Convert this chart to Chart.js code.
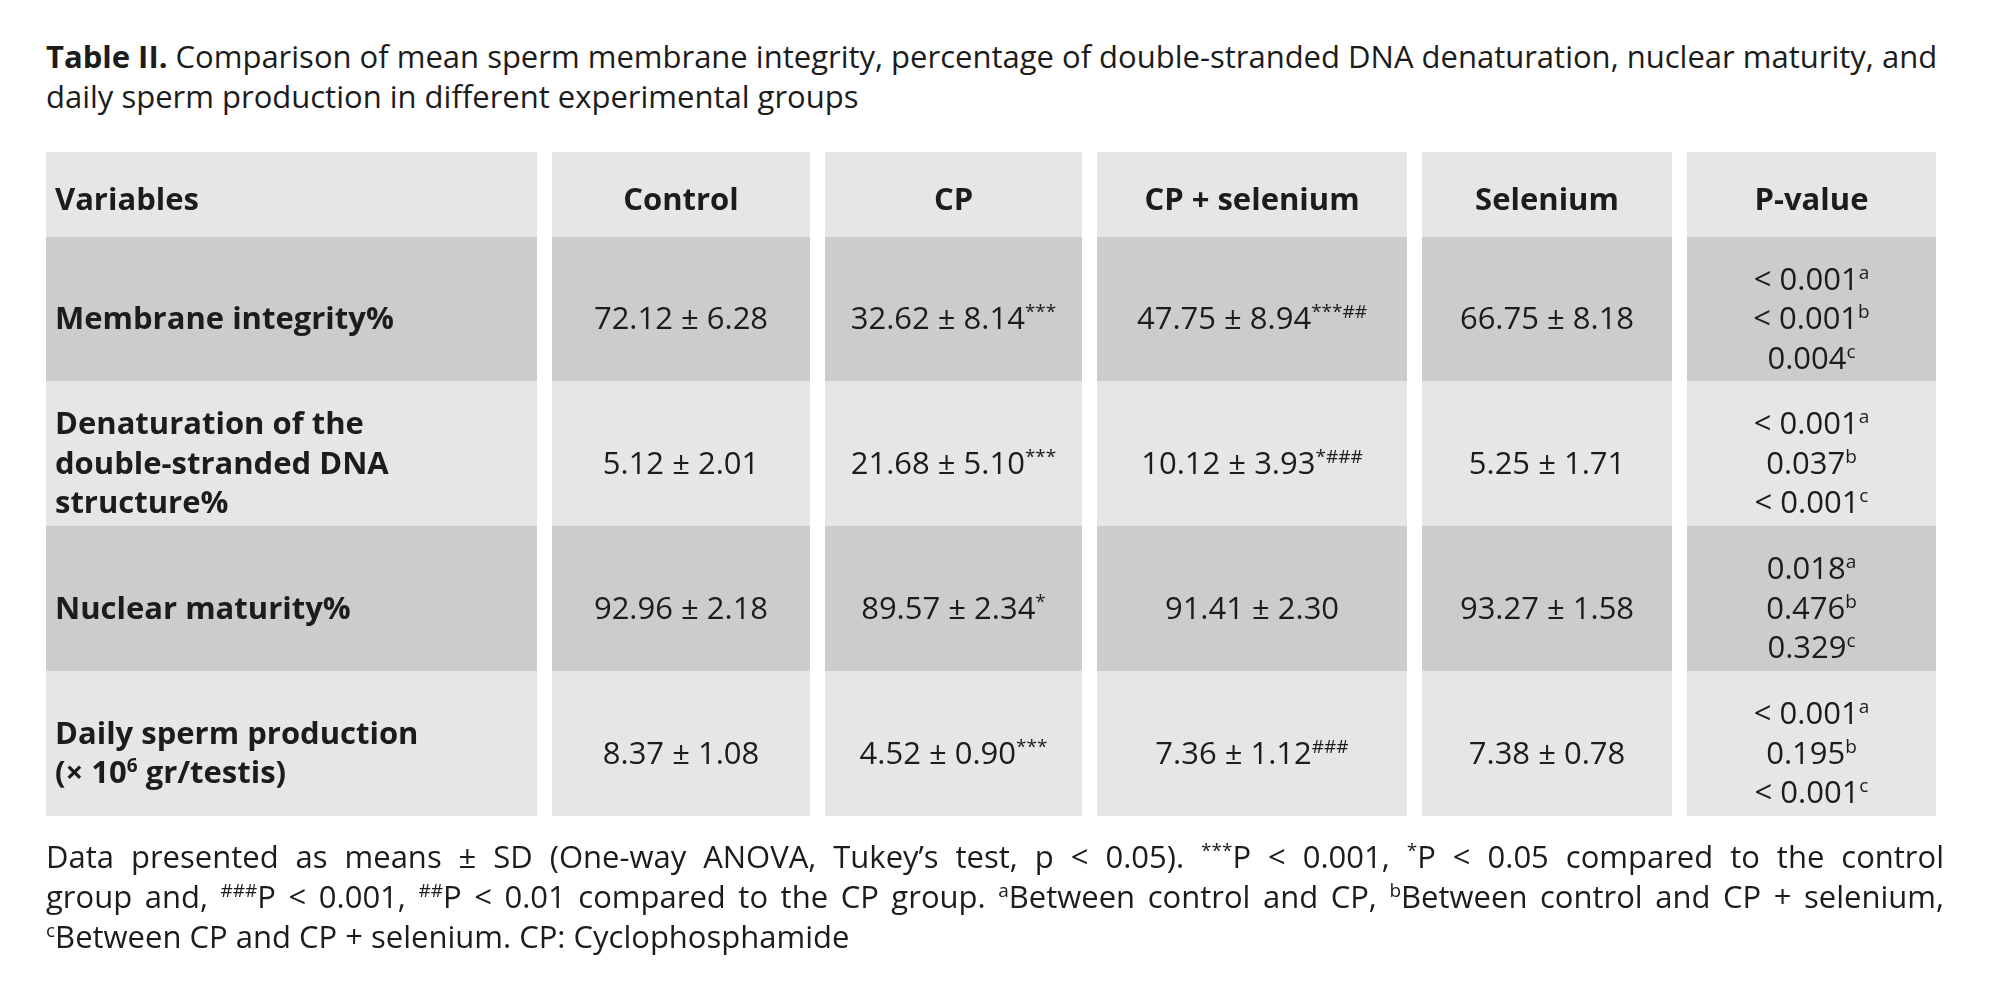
<!DOCTYPE html>
<html>
<head>
<meta charset="utf-8">
<title>Table II</title>
<script src="https://cdn.jsdelivr.net/npm/chart.js@4.4.1/dist/chart.umd.min.js"></script>
<style>
  html, body { margin: 0; padding: 0; background: #fff; }
  body { width: 2000px; height: 991px; position: relative; overflow: hidden; font-family: "Open Sans", Lato, sans-serif; color: #1c1c1c; }
  #grafico { position: absolute; left: 0; top: 0; }
  .titulo { position: absolute; left: 46px; top: 36px; font-size: 31px; line-height: 40px; white-space: nowrap; }
  .nota { position: absolute; left: 46px; top: 836px; width: 1898px; font-size: 31px; line-height: 40px; }
  .nota div { text-align: justify; text-align-last: justify; white-space: nowrap; }
  .nota div.ultima { text-align-last: left; }
  sup { font-size: 19px; line-height: 0; vertical-align: 11px; }
</style>
</head>
<body>
<div class="titulo"><b>Table II.</b> Comparison of mean sperm membrane integrity, percentage of double-stranded DNA denaturation, nuclear maturity, and<br>daily sperm production in different experimental groups</div>
<canvas id="grafico" width="2000" height="991"></canvas>
<div class="nota">
  <div>Data presented as means ± SD (One-way ANOVA, Tukey’s test, p &lt; 0.05). <sup>***</sup>P &lt; 0.001, <sup>*</sup>P &lt; 0.05 compared to the control</div>
  <div>group and, <sup>###</sup>P &lt; 0.001, <sup>##</sup>P &lt; 0.01 compared to the CP group. <sup>a</sup>Between control and CP, <sup>b</sup>Between control and CP + selenium,</div>
  <div class="ultima"><sup>c</sup>Between CP and CP + selenium. CP: Cyclophosphamide</div>
</div>
<script>
// Datos de la tabla (^{...} = superíndice, \n = salto de línea)
const columnas = ['Variables', 'Control', 'CP', 'CP + selenium', 'Selenium', 'P-value'];
const variables = [
    'Membrane integrity%',
    'Denaturation of the\ndouble-stranded DNA\nstructure%',
    'Nuclear maturity%',
    'Daily sperm production\n(× 10^{6} gr/testis)'
];
const control = ['72.12 ± 6.28', '5.12 ± 2.01', '92.96 ± 2.18', '8.37 ± 1.08'];
const cp = ['32.62 ± 8.14^{***}', '21.68 ± 5.10^{***}', '89.57 ± 2.34^{*}', '4.52 ± 0.90^{***}'];
const cpSelenio = ['47.75 ± 8.94^{***##}', '10.12 ± 3.93^{*###}', '91.41 ± 2.30', '7.36 ± 1.12^{###}'];
const selenio = ['66.75 ± 8.18', '5.25 ± 1.71', '93.27 ± 1.58', '7.38 ± 0.78'];
const pValores = [
    '< 0.001^{a}\n< 0.001^{b}\n0.004^{c}',
    '< 0.001^{a}\n0.037^{b}\n< 0.001^{c}',
    '0.018^{a}\n0.476^{b}\n0.329^{c}',
    '< 0.001^{a}\n0.195^{b}\n< 0.001^{c}'
];

// Geometría de la tabla (en unidades de las escalas)
const bordesColumnas = [[46, 537], [552, 810], [825, 1082], [1097, 1407], [1422, 1672], [1687, 1936]];
const bordesFilas = [[152, 237], [237, 381], [381, 526], [526, 671], [671, 816]];
const coloresFilas = ['#e6e6e6', '#cccccc', '#e6e6e6', '#cccccc', '#e6e6e6'];
const TAM = 31, TAM_SUP = 19, SUBIDA = 11, INTERLINEA = 39.5;
const FAMILIA = '"Open Sans", Lato, sans-serif';

// Parte un texto en trozos normales / superíndice
function trozos(linea) {
    const partes = linea.split(/\^\{([^}]*)\}/);
    return partes.map((t, i) => ({ t: t, sup: i % 2 === 1 })).filter(p => p.t.length);
}

function fuente(sup, negrita) {
    return (negrita ? 'bold ' : '') + (sup ? TAM_SUP : TAM) + 'px ' + FAMILIA;
}

function dibujarLinea(ctx, linea, x, base, centrado, negrita) {
    const ps = trozos(linea);
    let ancho = 0;
    ps.forEach(p => { ctx.font = fuente(p.sup, negrita); p.w = ctx.measureText(p.t).width; ancho += p.w; });
    let cx = centrado ? x - ancho / 2 : x;
    ps.forEach(p => {
        ctx.font = fuente(p.sup, negrita);
        ctx.fillText(p.t, cx, p.sup ? base - SUBIDA : base);
        cx += p.w;
    });
}

const pluginTabla = {
    id: 'tabla',
    beforeDatasetsDraw(chart) {
        const { ctx, scales: { x, y } } = chart;
        const filas = [columnas].concat(variables.map((v, i) => [v, control[i], cp[i], cpSelenio[i], selenio[i], pValores[i]]));
        ctx.save();
        ctx.textBaseline = 'alphabetic';
        ctx.textAlign = 'left';
        filas.forEach((fila, r) => {
            const y0 = y.getPixelForValue(bordesFilas[r][0]);
            const y1 = y.getPixelForValue(bordesFilas[r][1]);
            const centro = (y0 + y1) / 2;
            fila.forEach((celda, c) => {
                const x0 = x.getPixelForValue(bordesColumnas[c][0]);
                const x1 = x.getPixelForValue(bordesColumnas[c][1]);
                ctx.fillStyle = coloresFilas[r];
                ctx.fillRect(x0, y0, x1 - x0, y1 - y0);
                // Texto de la celda
                ctx.fillStyle = '#1c1c1c';
                const lineas = celda.split('\n');
                const negrita = r === 0 || c === 0;
                const desplaz = r === 0 ? 15.5 : 20;
                lineas.forEach((linea, k) => {
                    const base = centro + desplaz + (k - (lineas.length - 1) / 2) * INTERLINEA;
                    if (c === 0) dibujarLinea(ctx, linea, x0 + 9, base, false, negrita);
                    else dibujarLinea(ctx, linea, (x0 + x1) / 2, base, true, negrita);
                });
            });
        });
        ctx.restore();
    }
};

window.onload = function() {
    const ctx = document.getElementById('grafico').getContext('2d');
    new Chart(ctx, {
        type: 'scatter',
        data: { datasets: [] },
        options: {
            responsive: false,
            animation: false,
            devicePixelRatio: 1,
            layout: { padding: 0 },
            plugins: { legend: { display: false }, tooltip: { enabled: false }, title: { display: false } },
            scales: {
                x: { type: 'linear', min: 0, max: 2000, offset: false, display: false },
                y: { type: 'linear', min: 0, max: 991, reverse: true, offset: false, display: false }
            }
        },
        plugins: [pluginTabla]
    });
};
</script>
</body>
</html>
